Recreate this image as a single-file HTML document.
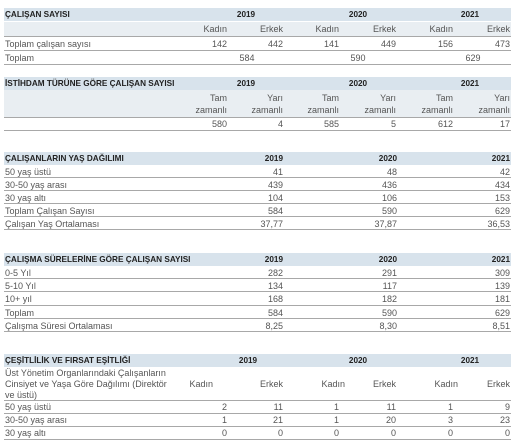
<!DOCTYPE html>
<html><head><meta charset="utf-8">
<style>
html,body{margin:0;padding:0;background:#fff;}
body{width:517px;height:448px;position:relative;overflow:hidden;font-family:"Liberation Sans","DejaVu Sans",sans-serif;color:#555;}
.t{position:absolute;white-space:nowrap;font-size:9px;line-height:10px;}
.b{font-weight:bold;color:#222;font-size:8.2px;}
.band{position:absolute;left:4px;width:507px;}
.hd{background:#d8e3ec;}
.sub{background:#e9eef2;}
.ln{position:absolute;left:4px;width:507px;height:1px;background:#a8a8a8;}
</style></head>
<body>
<div class="t b" style="left:4px;top:-6px;font-size:7px;">SOSYAL PERFORMANS TABLOLARI</div>
<div id="root"></div>
<script>
// Data
const years = ["2019","2020","2021"];
const t1Title = "ÇALIŞAN SAYISI";
const t1Kadin = [142,141,156];
const t1Erkek = [442,449,473];
const t1Toplam = [584,590,629];
const t2Title = "İSTİHDAM TÜRÜNE GÖRE ÇALIŞAN SAYISI";
const t2Tam = [580,585,612];
const t2Yari = [4,5,17];
const t3Title = "ÇALIŞANLARIN YAŞ DAĞILIMI";
const t3Labels = ["50 yaş üstü","30-50 yaş arası","30 yaş altı","Toplam Çalışan Sayısı","Çalışan Yaş Ortalaması"];
const t3Values = [["41","48","42"],["439","436","434"],["104","106","153"],["584","590","629"],["37,77","37,87","36,53"]];
const t4Title = "ÇALIŞMA SÜRELERİNE GÖRE ÇALIŞAN SAYISI";
const t4Labels = ["0-5 Yıl","5-10 Yıl","10+ yıl","Toplam","Çalışma Süresi Ortalaması"];
const t4Values = [["282","291","309"],["134","117","139"],["168","182","181"],["584","590","629"],["8,25","8,30","8,51"]];
const t5Title = "ÇEŞİTLİLİK VE FIRSAT EŞİTLİĞİ";
const t5Labels = ["50 yaş üstü","30-50 yaş arası","30 yaş altı"];
const t5Kadin = [[2,1,1],[1,1,3],[0,0,0]];
const t5Erkek = [[11,11,9],[21,20,23],[0,0,0]];

const root = document.getElementById('root');
const kadinR = [227,339,453], erkekR = [283,396,510], yearC = [246,358,470], singleR = [283,397,510];
function txt(s, x, y, align, cls, name){
  const d = document.createElement('div');
  d.className = 't' + (cls ? ' ' + cls : '');
  d.textContent = s;
  
  
  if (align === 'r') { d.style.right = (517 - x) + 'px'; d.style.textAlign = 'right'; }
  else if (align === 'c') { d.style.left = (x - 50) + 'px'; d.style.width = '100px'; d.style.textAlign = 'center'; }
  else d.style.left = x + 'px';
  d.style.top = y + 'px';
  root.appendChild(d);
  return d;
}
function band(y, h, cls, name){
  const d = document.createElement('div');
  d.className = 'band ' + cls;
  d.style.top = y + 'px'; d.style.height = h + 'px';
  
  
  root.appendChild(d);
}
function line(y){
  const d = document.createElement('div');
  d.className = 'ln'; d.style.top = y + 'px';
  
  
  root.appendChild(d);
}
function header(y, title, pos, align){
  band(y, 13, 'hd', 'table-header');
  txt(title, 5, y + 2, 'l', 'b', 'table-title');
  years.forEach((yr, i) => txt(yr, pos[i], y + 2, align, 'b', 'year-header'));
}

// Table 1
header(8, t1Title, yearC, 'c');
band(22, 14, 'sub', 'subheader-row');
years.forEach((yr, i) => { txt('Kadın', kadinR[i], 24, 'r', '', 'kadin-header'); txt('Erkek', erkekR[i], 24, 'r', '', 'erkek-header'); });
line(36);
txt('Toplam çalışan sayısı', 5, 39, 'l', '', 'row-label');
years.forEach((yr, i) => { txt(String(t1Kadin[i]), kadinR[i], 39, 'r', '', 'value-cell'); txt(String(t1Erkek[i]), erkekR[i], 39, 'r', '', 'value-cell'); });
line(50);
txt('Toplam', 5, 53, 'l', '', 'row-label');
years.forEach((yr, i) => txt(String(t1Toplam[i]), [247,358,473][i], 53, 'c', '', 'total-cell'));
line(64);

// Table 2
header(77, t2Title, yearC, 'c');
band(90, 27, 'sub', 'subheader-row');
years.forEach((yr, i) => {
  txt('Tam', kadinR[i], 93, 'r', '', 'tam-header'); txt('zamanlı', kadinR[i], 105, 'r', '', 'tam-header');
  txt('Yarı', erkekR[i], 93, 'r', '', 'yari-header'); txt('zamanlı', erkekR[i], 105, 'r', '', 'yari-header');
});
line(117);
years.forEach((yr, i) => { txt(String(t2Tam[i]), kadinR[i], 119, 'r', '', 'value-cell'); txt(String(t2Yari[i]), erkekR[i], 119, 'r', '', 'value-cell'); });
line(130);

// Table 3 & 4
function simple(y0, title, labels, values, pitch){
  header(y0, title, singleR, 'r');
  let y = y0 + 13;
  labels.forEach((lb, r) => {
    txt(lb, 5, y + 2, 'l', '', 'row-label');
    values[r].forEach((v, i) => txt(v, singleR[i], y + 2, 'r', '', 'value-cell'));
    line(y + pitch - 1);
    y += pitch;
  });
}
simple(152, t3Title, t3Labels, t3Values, 13);
simple(253, t4Title, t4Labels, t4Values, 13.2);

// Table 5
header(354, t5Title, [248,358,470], 'c');
txt('Üst Yönetim Organlarındaki Çalışanların', 5, 368, 'l', '', 'row-label');
txt('Cinsiyet ve Yaşa Göre Dağılımı (Direktör', 5, 379, 'l', '', 'row-label');
txt('ve üstü)', 5, 390, 'l', '', 'row-label');
years.forEach((yr, i) => { txt('Kadın', [213,345,458][i], 379, 'r', '', 'kadin-header'); txt('Erkek', erkekR[i], 379, 'r', '', 'erkek-header'); });
line(400);
let yy = 400;
t5Labels.forEach((lb, r) => {
  txt(lb, 5, yy + 2, 'l', '', 'row-label');
  years.forEach((yr, i) => { txt(String(t5Kadin[r][i]), kadinR[i], yy + 2, 'r', '', 'value-cell'); txt(String(t5Erkek[r][i]), erkekR[i], yy + 2, 'r', '', 'value-cell'); });
  line(yy + 13);
  yy += 13;
});
</script>
</body></html>
